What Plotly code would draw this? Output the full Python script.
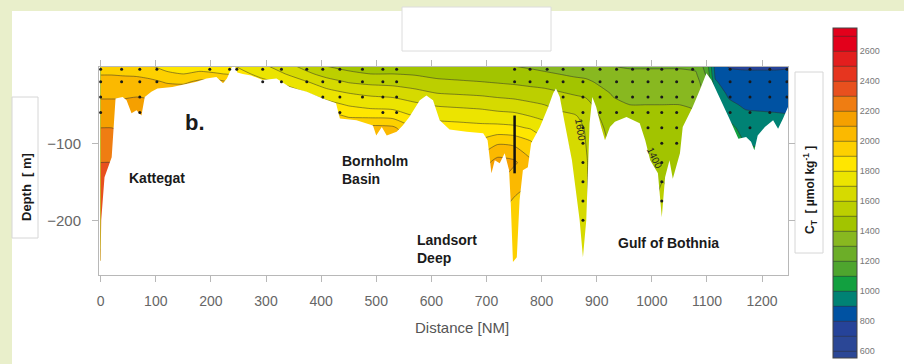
import plotly.graph_objects as go
import numpy as np

# ---------------- data ----------------
depth_levels = [0, -10, -20, -35, -50, -65, -80, -100, -125, -150, -200, -275]

station_nm = [0, 20, 40, 65, 90, 120, 150, 180, 210, 235, 255, 290, 330, 370, 410, 450,
              490, 530, 570, 610, 650, 690, 720, 750, 780, 805, 830, 860, 880, 900, 930,
              960, 990, 1020, 1050, 1080, 1100, 1115, 1140, 1170, 1200, 1225, 1250]

# CT (umol/kg) profiles, one list per station, values at depth_levels
ct_profiles = [
    [1950, 1995, 2030, 2080, 2120, 2150, 2200, 2240, 2300, 2340, 2380, 2420],  # 0
    [1950, 1995, 2030, 2080, 2120, 2150, 2200, 2240, 2300, 2340, 2380, 2420],  # 20
    [1945, 1990, 2030, 2080, 2120, 2150, 2190, 2230, 2290, 2330, 2370, 2400],  # 40
    [1940, 1985, 2030, 2085, 2130, 2160, 2190, 2230, 2280, 2320, 2360, 2380],  # 65
    [1910, 1965, 2020, 2080, 2120, 2150, 2180, 2210, 2250, 2280, 2300, 2320],  # 90
    [1860, 1920, 1990, 2060, 2100, 2130, 2150, 2170, 2200, 2220, 2240, 2250],  # 120
    [1830, 1900, 1980, 2070, 2110, 2130, 2150, 2170, 2190, 2200, 2210, 2220],  # 150
    [1840, 1930, 2020, 2080, 2120, 2140, 2150, 2160, 2170, 2180, 2190, 2200],  # 180
    [1830, 1910, 2030, 2090, 2130, 2150, 2160, 2170, 2180, 2190, 2200, 2200],  # 210
    [1820, 1890, 1990, 2060, 2100, 2120, 2130, 2140, 2150, 2160, 2170, 2170],  # 235
    [1780, 1830, 1880, 1940, 1990, 2020, 2040, 2060, 2070, 2080, 2090, 2090],  # 255
    [1730, 1770, 1830, 1890, 1950, 1990, 2020, 2040, 2050, 2060, 2070, 2070],  # 290
    [1650, 1710, 1780, 1870, 1940, 1990, 2020, 2040, 2050, 2060, 2070, 2070],  # 330
    [1570, 1630, 1710, 1810, 1900, 1980, 2030, 2060, 2080, 2090, 2100, 2100],  # 370
    [1500, 1560, 1640, 1740, 1840, 1950, 2030, 2080, 2100, 2110, 2120, 2120],  # 410
    [1470, 1520, 1590, 1700, 1790, 1890, 2000, 2080, 2120, 2130, 2140, 2140],  # 450
    [1460, 1500, 1570, 1680, 1760, 1880, 2030, 2110, 2150, 2160, 2170, 2170],  # 490
    [1460, 1500, 1560, 1670, 1750, 1870, 2020, 2100, 2150, 2160, 2170, 2170],  # 530
    [1450, 1490, 1550, 1630, 1720, 1800, 1900, 1980, 2020, 2040, 2050, 2050],  # 570
    [1440, 1470, 1520, 1600, 1690, 1770, 1850, 1920, 1980, 2000, 2010, 2010],  # 610
    [1430, 1460, 1510, 1590, 1680, 1760, 1840, 1910, 1970, 2000, 2010, 2010],  # 650
    [1420, 1450, 1500, 1580, 1670, 1750, 1830, 1930, 2050, 2100, 2050, 2000],  # 690
    [1410, 1440, 1490, 1570, 1650, 1740, 1830, 1990, 2140, 2120, 2000, 1980],  # 720
    [1400, 1430, 1480, 1560, 1640, 1730, 1820, 1980, 2120, 2020, 1970, 1960],  # 750
    [1390, 1420, 1470, 1540, 1620, 1700, 1790, 1920, 2020, 2000, 1970, 1960],  # 780
    [1380, 1410, 1460, 1530, 1600, 1670, 1750, 1820, 1880, 1900, 1900, 1900],  # 805
    [1360, 1400, 1450, 1510, 1570, 1630, 1690, 1740, 1760, 1770, 1780, 1780],  # 830
    [1340, 1380, 1430, 1490, 1550, 1610, 1650, 1670, 1680, 1690, 1700, 1700],  # 860
    [1330, 1370, 1420, 1480, 1530, 1570, 1590, 1600, 1610, 1610, 1620, 1620],  # 880
    [1320, 1350, 1390, 1440, 1480, 1510, 1530, 1540, 1550, 1550, 1550, 1550],  # 900
    [1300, 1330, 1360, 1390, 1420, 1440, 1460, 1480, 1490, 1490, 1490, 1490],  # 930
    [1290, 1320, 1350, 1380, 1400, 1420, 1440, 1460, 1470, 1480, 1480, 1480],  # 960
    [1290, 1320, 1350, 1380, 1400, 1420, 1440, 1460, 1480, 1490, 1490, 1490],  # 990
    [1290, 1320, 1350, 1380, 1400, 1420, 1440, 1460, 1480, 1500, 1520, 1520],  # 1020
    [1290, 1320, 1350, 1380, 1400, 1420, 1440, 1460, 1490, 1500, 1500, 1500],  # 1050
    [1280, 1310, 1340, 1370, 1390, 1410, 1430, 1450, 1460, 1460, 1460, 1460],  # 1080
    [1150, 1180, 1220, 1260, 1290, 1310, 1320, 1330, 1330, 1330, 1330, 1330],  # 1100
    [860, 880, 910, 960, 1000, 1030, 1050, 1060, 1060, 1060, 1060, 1060],      # 1115
    [790, 830, 850, 880, 920, 980, 1030, 1060, 1070, 1070, 1070, 1070],        # 1140
    [780, 820, 845, 865, 885, 920, 960, 1000, 1040, 1050, 1050, 1050],         # 1170
    [780, 820, 840, 860, 880, 915, 950, 990, 1030, 1040, 1040, 1040],          # 1200
    [780, 820, 840, 860, 880, 910, 945, 985, 1020, 1030, 1030, 1030],          # 1225
    [790, 820, 840, 860, 880, 905, 940, 980, 1010, 1020, 1020, 1020],          # 1250
]

# sea-floor profile (distance NM, depth m)
bottom_nm = [-3, 0, 1, 7, 20, 27, 40, 47, 56, 65, 74, 80, 92, 103, 130, 161, 174, 192, 210,
             222, 229, 234, 238, 244, 248, 258, 273, 294, 319, 343, 374, 403, 427, 434, 464,
             494, 500, 510, 519, 537, 548, 560, 579, 591, 603, 615, 633, 664, 694, 702, 709,
             715, 724, 733, 741, 744, 748, 755, 760, 766, 775, 781, 797, 812, 821, 826, 833,
             842, 855, 869, 875, 881, 887, 892, 899, 908, 915, 924, 933, 954, 978, 988, 997,
             1011, 1018, 1024, 1032, 1038, 1044, 1051, 1056, 1065, 1074, 1087, 1096, 1099,
             1108, 1123, 1142, 1157, 1171, 1180, 1186, 1192, 1205, 1220, 1229, 1238, 1247, 1252]
bottom_depth = [-255, -252, -200, -144, -118, -42, -40, -44, -61, -57, -64, -40, -33, -29, -27,
                -22, -20, -16, -14, -22, -16, -8, -1, -1, -8, -10, -12, -18, -16, -27, -33, -42,
                -48, -68, -70, -77, -90, -79, -90, -85, -77, -66, -44, -38, -44, -70, -82, -85,
                -87, -96, -139, -122, -126, -113, -135, -178, -254, -248, -174, -135, -131, -100,
                -79, -53, -35, -29, -40, -74, -122, -200, -248, -200, -74, -40, -53, -79, -96,
                -79, -72, -66, -74, -96, -122, -139, -196, -144, -122, -146, -131, -113, -79,
                -66, -53, -31, -16, -9, -18, -40, -70, -94, -92, -98, -109, -90, -79, -70, -81,
                -68, -53, -53]

# sampling stations and number of sampled standard depths at each
sample_nm = [0, 38, 71, 102, 198, 234, 247, 294, 328, 374, 403, 434, 475, 512, 537, 751, 779,
             810, 839, 875, 906, 936, 965, 993, 1018, 1045, 1074, 1142, 1178, 1214, 1245]
sample_count = [4, 2, 4, 2, 1, 1, 1, 2, 2, 2, 3, 4, 3, 4, 4, 2, 2, 2, 3, 10, 4, 4, 4, 5, 9, 6,
                3, 4, 5, 4, 3]
sample_levels = [-4, -20, -40, -60, -80, -100, -125, -150, -175, -200, -225]

landsort_cast_nm = [751, 751]
landsort_cast_depth = [-64, -139]

# colour bands 600-700 ... 2600-2700
band_colors = ["#2b4796", "#264399", "#0052a2", "#008274", "#12a040", "#4ea52e", "#6cae28",
               "#88b820", "#a2c400", "#bccf00", "#d6da00", "#ece400", "#ffe600", "#fdd000",
               "#fbb900", "#f5a000", "#ef7d12", "#e8501e", "#e6351f", "#e31e1e", "#e3001b"]
cbar_ticks = [600, 800, 1000, 1200, 1400, 1600, 1800, 2000, 2200, 2400, 2600]
x_ticks = [0, 100, 200, 300, 400, 500, 600, 700, 800, 900, 1000, 1100, 1200]
y_ticks = [-100, -200]

# ---------------- figure ----------------
FONT = "Liberation Sans, Arial, Helvetica, sans-serif"
W, H = 904, 364
ML, MR, MT, MB = 99, 116, 67, 89
PW, PH = W - ML - MR, H - MT - MB


def px(xp):
    return (xp - ML) / PW


def py(yp):
    return (H - MB - yp) / PH


z = np.array(ct_profiles).T[::-1]
y_inc = depth_levels[::-1]

reg_colors = [band_colors[0]] + band_colors + [band_colors[-1]]
colorscale = [[k / (len(reg_colors) - 1), c] for k, c in enumerate(reg_colors)]

fig = go.Figure()
fig.add_trace(go.Contour(
    x=station_nm, y=y_inc, z=z,
    colorscale=colorscale,
    contours=dict(start=600, end=2700, size=100, coloring="fill", showlines=True),
    line=dict(color="rgba(45,45,45,0.85)", width=0.6, smoothing=0.6),
    hoverinfo="skip",
    colorbar=dict(
        x=px(833), xanchor="left", y=py(193), yanchor="middle",
        thickness=24, lenmode="pixels", len=330, xpad=0, ypad=0,
        tickvals=cbar_ticks, ticks="", tickfont=dict(family=FONT, size=9, color="#777"),
        outlinecolor="#444", outlinewidth=1, ticklabelposition="outside",
    ),
))

# sea floor mask
fig.add_trace(go.Scatter(
    x=bottom_nm + [1260, 1260, -10, -10],
    y=bottom_depth + [-53, -300, -300, -255],
    fill="toself", fillcolor="white", mode="lines", line=dict(width=0, color="white"),
    hoverinfo="skip", showlegend=False,
))

# sampling dots
dx, dy = [], []
for s, n in zip(sample_nm, sample_count):
    for lv in sample_levels[:n]:
        dx.append(s)
        dy.append(lv)
fig.add_trace(go.Scatter(x=dx, y=dy, mode="markers",
                         marker=dict(size=3, color="#1a1a1a"),
                         hoverinfo="skip", showlegend=False))
fig.add_trace(go.Scatter(x=landsort_cast_nm, y=landsort_cast_depth, mode="lines",
                         line=dict(color="#111", width=2.5), hoverinfo="skip", showlegend=False))

axis_common = dict(showline=True, linecolor="#b8b8b8", linewidth=1, mirror="ticks",
                   ticks="outside", tickcolor="#b8b8b8", ticklen=6, showgrid=False,
                   zeroline=False, automargin=False)
fig.update_xaxes(range=[-3, 1247], tickvals=x_ticks,
                 tickfont=dict(family=FONT, size=14, color="#666"),
                 ticklabelstandoff=7, **axis_common)
fig.update_yaxes(range=[-271, -1], tickvals=y_ticks,
                 tickfont=dict(family=FONT, size=15, color="#666"),
                 ticklabelstandoff=8, **axis_common)

shapes = [
    dict(type="rect", xref="paper", yref="paper", x0=px(12), x1=px(910), y0=py(11), y1=py(370),
         fillcolor="white", line=dict(width=0), layer="below"),
    dict(type="rect", xref="paper", yref="paper", x0=px(402), x1=px(551), y0=py(51), y1=py(7),
         fillcolor="white", line=dict(width=1, color="#dcdcdc"), layer="below"),
    dict(type="rect", xref="paper", yref="paper", x0=px(12), x1=px(38), y0=py(238), y1=py(97),
         fillcolor="white", line=dict(width=1, color="#d6d6d6"), layer="below"),
    dict(type="rect", xref="paper", yref="paper", x0=px(795), x1=px(823), y0=py(253), y1=py(72),
         fillcolor="white", line=dict(width=1, color="#d6d6d6"), layer="below"),
]

lab = dict(family=FONT, size=14, color="#1a1a1a")
annotations = [
    dict(x=172, y=-73, text="<b>b.</b>", font=dict(family=FONT, size=22, color="#1a1a1a")),
    dict(x=103, y=-145, text="<b>Kattegat</b>", font=lab),
    dict(x=434, y=-135, text="<b>Bornholm<br>Basin</b>", font=lab, xanchor="left", align="left"),
    dict(x=570, y=-237, text="<b>Landsort<br>Deep</b>", font=lab, xanchor="left", align="left"),
    dict(x=1031, y=-230, text="<b>Gulf of Bothnia</b>", font=lab),
    dict(x=871, y=-83, text="1600", textangle=80, font=dict(family=FONT, size=10, color="#222")),
    dict(x=1004, y=-119, text="1400", textangle=65, font=dict(family=FONT, size=10, color="#222")),
    dict(x=655, xref="x", y=py(327), yref="paper", text="Distance [NM]",
         font=dict(family=FONT, size=15, color="#555")),
    dict(x=px(26), y=py(187), xref="paper", yref="paper", text="<b>Depth  [ m]</b>",
         textangle=-90, font=dict(family=FONT, size=13, color="#1a1a1a")),
    dict(x=px(810), y=py(190), xref="paper", yref="paper",
         text="<b>C<sub>T</sub>  [ µmol kg<sup>-1</sup> ]</b>",
         textangle=-90, font=dict(family=FONT, size=12, color="#1a1a1a")),
]
for a in annotations:
    a.setdefault("xref", "x")
    a.setdefault("yref", "y")
    a.setdefault("xanchor", "center")
    a.setdefault("yanchor", "middle")
    a["showarrow"] = False

fig.update_layout(
    width=W, height=H, margin=dict(l=ML, r=MR, t=MT, b=MB, pad=0, autoexpand=False),
    paper_bgcolor="#e9efcb", plot_bgcolor="white",
    shapes=shapes, annotations=annotations, showlegend=False,
    font=dict(family=FONT),
)

fig.write_html("out.html", config={"displayModeBar": False},
               post_script="document.body.style.margin='0';document.body.style.padding='0';"
                           "document.body.style.overflow='hidden';")
